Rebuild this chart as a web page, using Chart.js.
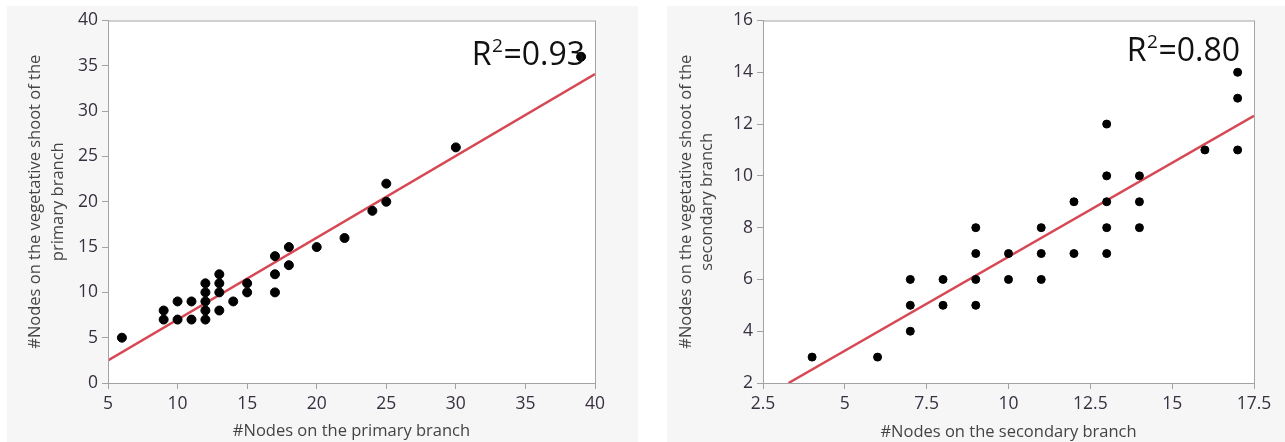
<!DOCTYPE html>
<html>
<head>
<meta charset="utf-8">
<script src="https://cdn.jsdelivr.net/npm/chart.js@4"></script>
<style>
  body { margin: 0; background: #fff; width: 1285px; height: 442px; overflow: hidden; position: relative; }
  .panel { position: absolute; background: #f6f6f6; }
  #p1 { left: 7px; top: 6px; width: 631px; height: 436px; }
  #p2 { left: 667px; top: 6px; width: 618px; height: 436px; }
</style>
</head>
<body>
<div class="panel" id="p1"><canvas id="primaryChart" width="631" height="436"></canvas></div>
<div class="panel" id="p2"><canvas id="secondaryChart" width="618" height="436"></canvas></div>
<script>
// primary branch vs vegetative shoot nodes
const primaryX = [6, 9, 9, 10, 10, 11, 11, 12, 12, 12, 12, 12, 13, 13, 13, 13, 14, 15, 15, 17, 17, 17, 18, 18, 20, 22, 24, 25, 25, 30, 39];
const primaryY = [5, 8, 7, 9, 7, 9, 7, 11, 10, 9, 8, 7, 12, 11, 10, 8, 9, 11, 10, 14, 12, 10, 15, 13, 15, 16, 19, 22, 20, 26, 36];
const primaryFitX = [5, 40];
const primaryFitY = [2.5, 34.1];
const primaryR2 = "0.93";

// secondary branch vs vegetative shoot nodes
const secondaryX = [4, 6, 7, 7, 7, 8, 8, 9, 9, 9, 9, 10, 10, 11, 11, 11, 12, 12, 13, 13, 13, 13, 13, 14, 14, 14, 16, 17, 17, 17];
const secondaryY = [3, 3, 6, 5, 4, 6, 5, 8, 7, 6, 5, 7, 6, 8, 7, 6, 9, 7, 12, 10, 9, 8, 7, 10, 9, 8, 11, 14, 13, 11];
const secondaryFitX = [3.28, 17.5];
const secondaryFitY = [2, 12.32];
const secondaryR2 = "0.80";

const FONT = "'Open Sans', 'Noto Sans', sans-serif";
const AXIS_GRAY = "#a3a3a3";

const toPoints = (xs, ys) => xs.map((x, i) => ({ x: x, y: ys[i] }));

// white plot area with a thin frame, plus the R² note in the corner
const plotFrame = {
  id: "plotFrame",
  beforeDraw(chart) {
    const { ctx, chartArea: a } = chart;
    ctx.save();
    ctx.fillStyle = "#fff";
    ctx.fillRect(a.left, a.top, a.right - a.left, a.bottom - a.top);
    ctx.restore();
  },
  afterDraw(chart, args, opts) {
    const { ctx, chartArea: a } = chart;
    ctx.save();
    ctx.strokeStyle = AXIS_GRAY;
    ctx.lineWidth = 1;
    ctx.strokeRect(a.left + 0.5, a.top + 0.5, a.right - a.left, a.bottom - a.top);

    // R² label, right aligned
    const big = "32px " + FONT;
    const small = "19px " + FONT;
    ctx.fillStyle = "#111";
    ctx.textBaseline = "alphabetic";
    ctx.font = big;
    const wR = ctx.measureText("R").width;
    const wRest = ctx.measureText("=" + opts.r2).width;
    ctx.font = small;
    const wSup = ctx.measureText("2").width + 1;
    let x = a.right - opts.rightInset - (wR + wSup + wRest);
    const y = a.top + opts.baseline;
    ctx.font = big;
    ctx.fillText("R", x, y);
    x += wR;
    ctx.font = small;
    ctx.fillText("2", x + 0.5, y - 13);
    x += wSup;
    ctx.font = big;
    ctx.fillText("=" + opts.r2, x, y);
    ctx.restore();
  }
};

function makeChart(id, cfg) {
  return new Chart(document.getElementById(id), {
    type: "scatter",
    data: {
      datasets: [
        {
          data: toPoints(cfg.xs, cfg.ys),
          backgroundColor: "#000",
          borderColor: "#000",
          pointRadius: cfg.radius,
          pointHoverRadius: cfg.radius,
          order: 1
        },
        {
          type: "line",
          data: toPoints(cfg.fitX, cfg.fitY),
          borderColor: "rgb(214, 72, 84)",
          borderWidth: 2.5,
          pointRadius: 0,
          fill: false,
          order: 2
        }
      ]
    },
    options: {
      responsive: false,
      animation: false,
      layout: { padding: { top: cfg.top, right: cfg.right, bottom: 0, left: 0 } },
      plugins: {
        legend: { display: false },
        tooltip: { enabled: false },
        plotFrame: { r2: cfg.r2, rightInset: cfg.r2Inset, baseline: cfg.r2Baseline }
      },
      scales: {
        x: {
          type: "linear",
          min: cfg.xMin,
          max: cfg.xMax,
          ticks: {
            stepSize: cfg.xStep,
            autoSkip: false,
            padding: 5,
            color: "#383040",
            font: { family: FONT, size: 17.5 }
          },
          grid: { drawOnChartArea: false, drawTicks: true, tickLength: 6, color: AXIS_GRAY },
          border: { color: AXIS_GRAY },
          title: {
            display: true,
            text: cfg.xTitle,
            color: "#444",
            font: { family: FONT, size: 16.5, lineHeight: 1.2 },
            padding: { top: 0, bottom: cfg.xTitlePad }
          },
          afterFit(scale) { scale.height = cfg.xHeight; }
        },
        y: {
          type: "linear",
          min: cfg.yMin,
          max: cfg.yMax,
          ticks: {
            stepSize: cfg.yStep,
            autoSkip: false,
            padding: 4,
            color: "#383040",
            font: { family: FONT, size: 17.5 }
          },
          grid: { drawOnChartArea: false, drawTicks: true, tickLength: 6, color: AXIS_GRAY },
          border: { color: AXIS_GRAY },
          title: {
            display: true,
            text: cfg.yTitle,
            color: "#444",
            font: { family: FONT, size: 16.5, lineHeight: cfg.yTitleLine },
            padding: { top: cfg.yTitlePad, bottom: 0 }
          },
          afterFit(scale) { scale.width = cfg.yWidth; }
        }
      }
    },
    plugins: [plotFrame]
  });
}

makeChart("primaryChart", {
  xs: primaryX, ys: primaryY, fitX: primaryFitX, fitY: primaryFitY, r2: primaryR2,
  radius: 4.5,
  xMin: 5, xMax: 40, xStep: 5, yMin: 0, yMax: 40, yStep: 5,
  xTitle: "#Nodes on the primary branch",
  yTitle: ["#Nodes on the vegetative shoot of the", "primary branch"],
  top: 12, right: 43, xHeight: 59, yWidth: 101,
  xTitlePad: 1, yTitlePad: 16.5, yTitleLine: 1.4,
  r2Inset: 10, r2Baseline: 44
});

makeChart("secondaryChart", {
  xs: secondaryX, ys: secondaryY, fitX: secondaryFitX, fitY: secondaryFitY, r2: secondaryR2,
  radius: 4,
  xMin: 2.5, xMax: 17.5, xStep: 2.5, yMin: 2, yMax: 16, yStep: 2,
  xTitle: "#Nodes on the secondary branch",
  yTitle: ["#Nodes on the vegetative shoot of the", "secondary branch"],
  top: 11, right: 31, xHeight: 59, yWidth: 96,
  xTitlePad: 0, yTitlePad: 9, yTitleLine: 1.27,
  r2Inset: 14, r2Baseline: 40
});
</script>
</body>
</html>
